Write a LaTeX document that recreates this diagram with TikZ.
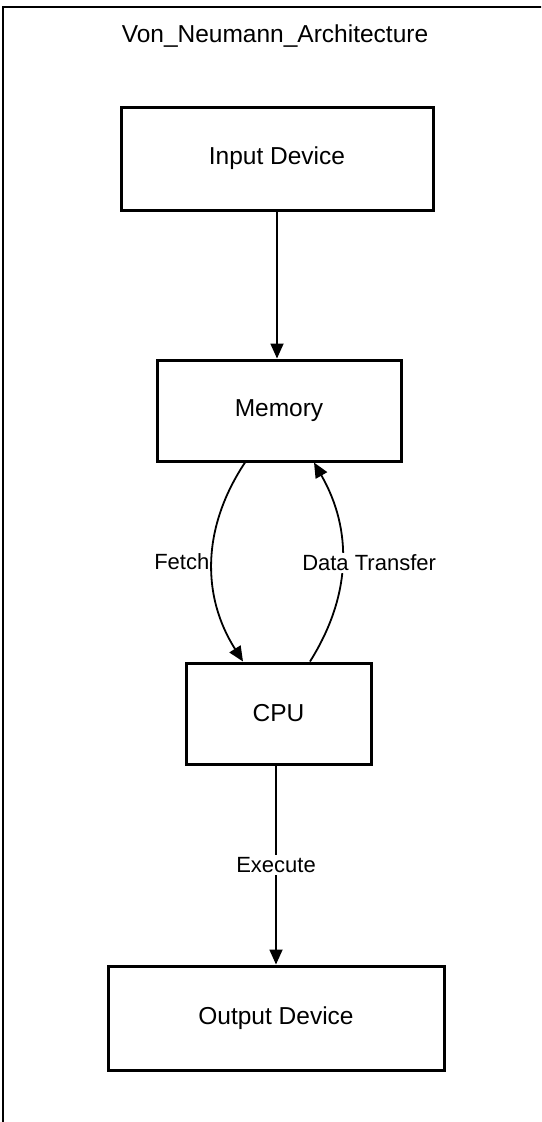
\documentclass[tikz,border=0pt]{standalone}
\usepackage{fontspec}
\setmainfont{Liberation Sans}
\usetikzlibrary{arrows.meta}
\begin{document}
\begin{tikzpicture}[x=1pt,y=-1pt,
    unit/.style={draw,line width=3pt,inner sep=0pt,font=\fontsize{24.5}{28}\selectfont},
    flow/.style={line width=1.8pt,-{Triangle[length=15pt,width=13pt]}},
    tag/.style={font=\fontsize{22}{26}\selectfont,inner sep=2pt}]
  \useasboundingbox (0,0) rectangle (541,1122);
  \begin{scope}
    \clip (0,0) rectangle (541,1122);
    \draw[line width=2.5pt] (3,7) rectangle (580,1160);
  \end{scope}
  \node[font=\fontsize{24.5}{28}\selectfont] (title) at (275,36) {Von\_Neumann\_Architecture};
  \draw
    (277,158.5) node[unit,minimum width=312,minimum height=103] (input){Input Device}
    (279,410.5) node[unit,minimum width=244,minimum height=101] (mem){Memory}
    (278.5,713.5) node[unit,minimum width=185,minimum height=101] (cpu){CPU}
    (276,1018) node[unit,minimum width=336,minimum height=104] (output){Output Device};
  \begin{scope}[flow]
    \draw (input.south) to (input.south |- mem.north);
    \draw ([xshift=-34pt]mem.south) to[bend right=33]
      node[tag,left] {Fetch} ([xshift=-35.5pt]cpu.north);
    \draw ([xshift=31.5pt]cpu.north) to[bend right=31]
      node[tag,fill=white,xshift=27pt] {Data Transfer} ([xshift=35pt]mem.south);
    \draw (cpu.south -| output.north) to node[tag,fill=white] {Execute} (output.north);
  \end{scope}
\end{tikzpicture}
\end{document}
